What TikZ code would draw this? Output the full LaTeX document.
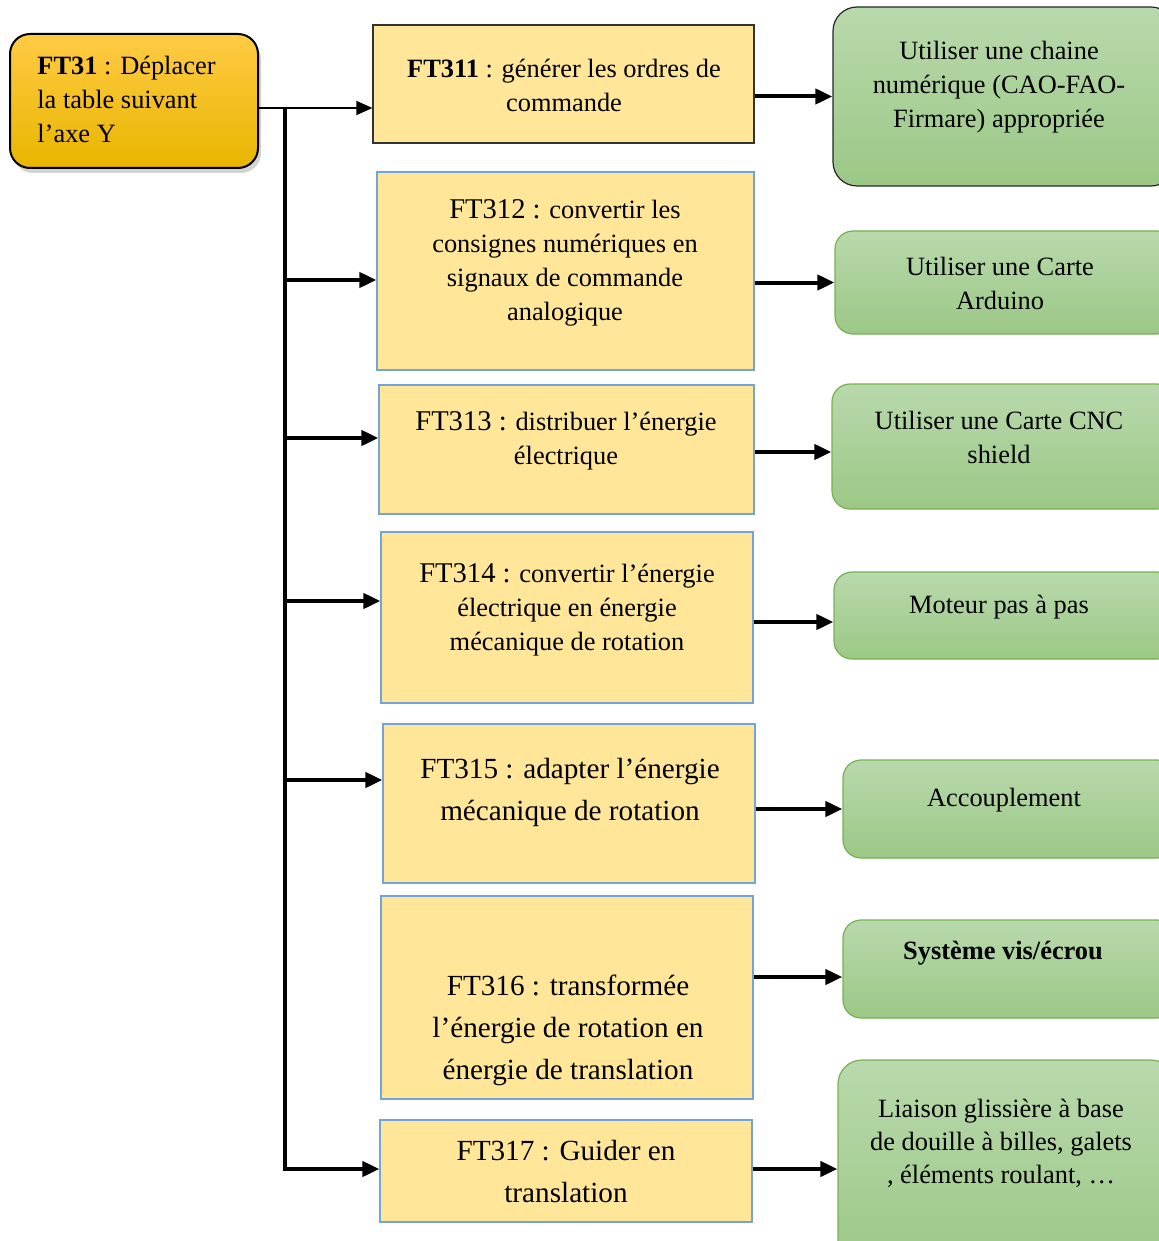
\documentclass[tikz,border=0pt]{standalone}
\usepackage{fontspec}
\setmainfont{Liberation Serif}
\usepackage{tikz}
\usetikzlibrary{positioning, arrows.meta, shadows}
\definecolor{ftyellow}{HTML}{FFE699}
\definecolor{ftblue}{HTML}{72A4DA}
\definecolor{ftgreen}{HTML}{78B050}
\definecolor{greentop}{HTML}{B9D9AC}
\definecolor{greenbot}{HTML}{9BC886}
\definecolor{orangetop}{HTML}{FFCB45}
\definecolor{orangebot}{HTML}{E8B500}
\tikzstyle{mainfn} = [rectangle, rounded corners=10pt, inner sep=0pt,
                      draw=black, line width=1pt, top color=orangetop, bottom color=orangebot,
                      drop shadow={shadow xshift=1.5pt, shadow yshift=-2.5pt, opacity=0.35}]
\tikzstyle{subfn} = [rectangle, inner sep=0pt, draw=ftblue, line width=0.6pt, fill=ftyellow]
\tikzstyle{sol} = [rectangle, rounded corners=9pt, inner sep=0pt,
                   draw=ftgreen, line width=0.6pt, top color=greentop, bottom color=greenbot]
\tikzstyle{txt} = [align=center, inner sep=0pt, font=\fontsize{13.2}{17}\selectfont]
\tikzstyle{bigtxt} = [align=center, inner sep=0pt, font=\fontsize{14.6}{21}\selectfont]
\tikzstyle{arrow} = [line width=2pt, -{Triangle[length=8.5pt,width=7.5pt]}]
\tikzstyle{thinarrow} = [line width=0.7pt, -{Triangle[length=8pt,width=7pt]}]

\begin{document}
\begin{tikzpicture}[x=0.5pt, y=-0.5pt]
\useasboundingbox (0,0) rectangle (1159,1241);
\clip (0,0) rectangle (1159,1241);

% main function
\node (ft31) [mainfn, minimum width=124pt, minimum height=67pt] at (134,101) {};
\node (ft31t) [txt, anchor=west, align=left] at (37,99) {\textbf{FT31} : Déplacer\\la table suivant\\l’axe Y};

% sub functions
\node (f311) [subfn, draw=black!80, minimum width=190.5pt, minimum height=59pt] at (563.5,84) {};
\node (f312) [subfn, minimum width=188.5pt, minimum height=99pt] at (565.5,271) {};
\node (f313) [subfn, minimum width=187.5pt, minimum height=64.5pt] at (566.5,449.5) {};
\node (f314) [subfn, minimum width=186pt, minimum height=85.5pt] at (567,617.5) {};
\node (f315) [subfn, minimum width=186pt, minimum height=79.5pt] at (569,803.5) {};
\node (f316) [subfn, minimum width=186pt, minimum height=101.5pt] at (567,997.5) {};
\node (f317) [subfn, minimum width=186pt, minimum height=51pt] at (566,1171) {};

\node (f311t) [txt] at (564,85) {\textbf{FT311} : générer les ordres de\\commande};
\node (f312t) [txt] at (565,263) {{\fontsize{14.3}{17}\selectfont FT312 :} convertir les\\consignes numériques en\\signaux de commande\\analogique};
\node (f313t) [txt] at (566,441) {{\fontsize{14.3}{17}\selectfont FT313 :} distribuer l’énergie\\électrique};
\node (f314t) [txt] at (567,610) {{\fontsize{14.3}{17}\selectfont FT314 :} convertir l’énergie\\électrique en énergie\\mécanique de rotation};
\node (f315t) [bigtxt] at (570,792) {FT315 : adapter l’énergie\\mécanique de rotation};
\node (f316t) [bigtxt] at (568,1030) {FT316 : transformée\\l’énergie de rotation en\\énergie de translation};
\node (f317t) [bigtxt] at (566,1171) {FT317 : Guider en\\translation};

% solutions
\node (g1) [sol, rounded corners=12pt, draw=black!85, minimum width=171pt, minimum height=89.5pt] at (1004,96.5) {};
\node (g2) [sol, minimum width=170pt, minimum height=51.5pt] at (1005,282.5) {};
\node (g3) [sol, minimum width=171.5pt, minimum height=62.5pt] at (1003.5,446.5) {};
\node (g4) [sol, minimum width=170.5pt, minimum height=43.5pt] at (1004.5,615.5) {};
\node (g5) [sol, minimum width=166pt, minimum height=49pt] at (1009,809) {};
\node (g6) [sol, minimum width=166pt, minimum height=49pt] at (1009,969) {};
\node (g7) [sol, rounded corners=12pt, minimum width=168.5pt, minimum height=105pt] at (1006.5,1165) {};

\node (g1t) [txt] at (999,87) {Utiliser une chaine\\numérique (CAO-FAO-\\Firmare) appropriée};
\node (g2t) [txt] at (1000,283) {Utiliser une Carte\\Arduino};
\node (g3t) [txt] at (999,437) {Utiliser une Carte CNC\\shield};
\node (g4t) [txt] at (999,607) {Moteur pas à pas};
\node (g5t) [txt] at (1004,800) {Accouplement};
\node (g6t) [txt, font=\fontsize{13.2}{17}\selectfont\bfseries] at (1003,953) {Système vis/écrou};
\node (g7t) [txt, font=\fontsize{13.2}{16.5}\selectfont] at (1001,1143) {Liaison glissière à base\\de douille à billes, galets\\, éléments roulant, …};

% trunk
\coordinate (j0) at (285,108);
\coordinate (j2) at (285,280);
\coordinate (j3) at (285,438);
\coordinate (j4) at (285,601);
\coordinate (j5) at (285,780);
\coordinate (j7) at (285,1169);

\draw [thinarrow] (ft31.east |- j0) -- (j0 -| f311.west);
\draw [arrow] (j0) -- (j7) -- (j7 -| f317.west);
\draw [arrow] (j2) -- (j2 -| f312.west);
\draw [arrow] (j3) -- (j3 -| f313.west);
\draw [arrow] (j4) -- (j4 -| f314.west);
\draw [arrow] (j5) -- (j5 -| f315.west);

\draw [arrow] (f311.east |- g1.west) -- (g1.west);
\draw [arrow] (f312.east |- g2.west) -- (g2.west);
\draw [arrow] (f313.east |- 0,452) -- (g3.west |- 0,452);
\draw [arrow] (f314.east |- 0,622) -- (g4.west |- 0,622);
\draw [arrow] (f315.east |- g5.west) -- (g5.west);
\draw [arrow] (f316.east |- 0,977) -- (g6.west |- 0,977);
\draw [arrow] (f317.east |- 0,1169) -- (g7.west |- 0,1169);
\end{tikzpicture}
\end{document}
